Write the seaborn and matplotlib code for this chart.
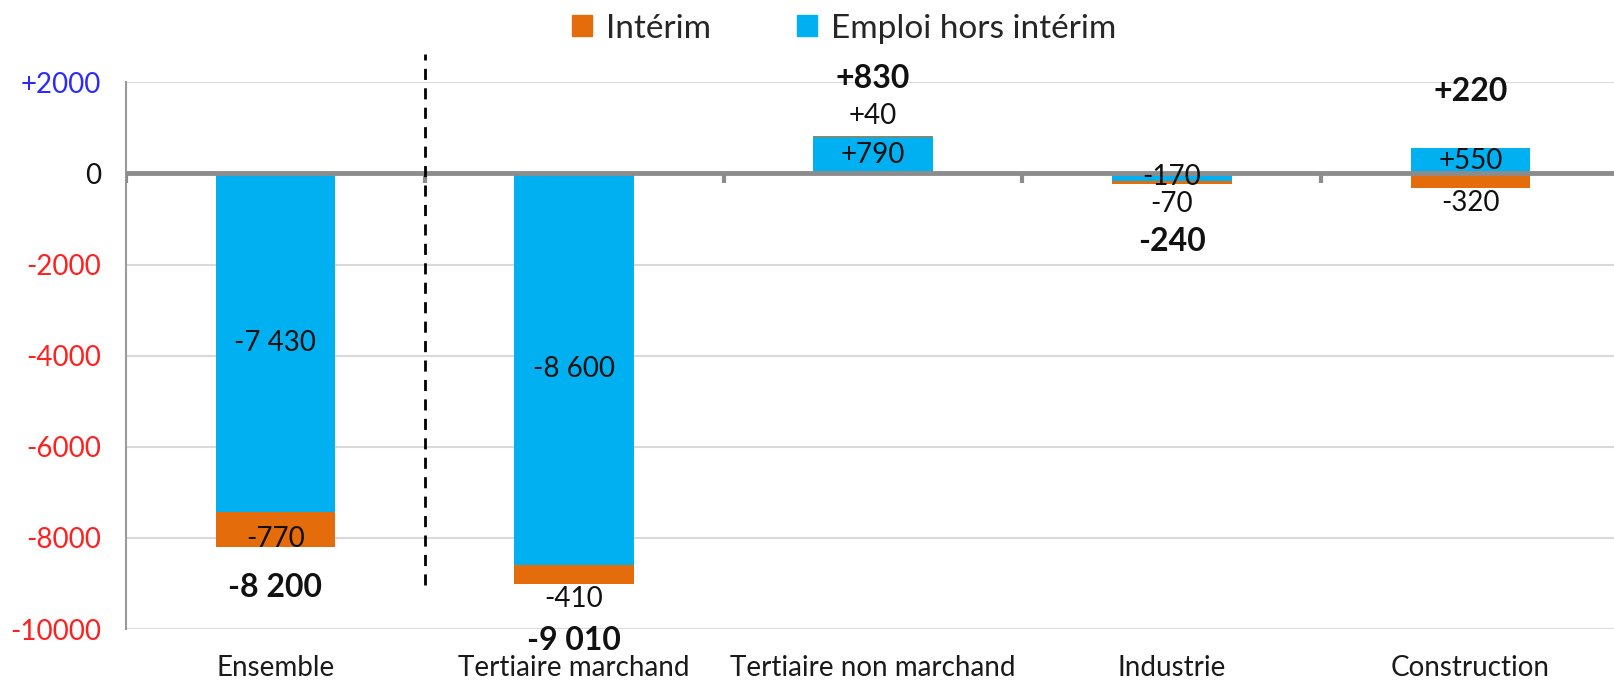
import matplotlib
matplotlib.use("Agg")
import matplotlib.pyplot as plt
from matplotlib import font_manager
from matplotlib.patches import Patch
import seaborn as sns
import pandas as pd

categories = ["Ensemble", "Tertiaire marchand", "Tertiaire non marchand", "Industrie", "Construction"]
hors_interim = [-7430, -8600, 790, -170, 550]
interim = [-770, -410, 40, -70, -320]
totaux = [-8200, -9010, 830, -240, 220]

blue_labels = ["-7 430", "-8 600", "+790", "-170", "+550"]
orange_labels = ["-770", "-410", "+40", "-70", "-320"]
total_labels = ["-8 200", "-9 010", "+830", "-240", "+220"]

yticks = [2000, 0, -2000, -4000, -6000, -8000, -10000]
ytick_labels = ["+2000", "0", "-2000", "-4000", "-6000", "-8000", "-10000"]

BLUE = "#00B0F0"
ORANGE = "#E46C0A"

sns.set_style("white")
font = "Lato"
for f in ["Liberation Sans Narrow", "Lato"]:
    try:
        font_manager.findfont(f, fallback_to_default=False)
        font = f
        break
    except Exception:
        pass
plt.rcParams["font.family"] = [font, "DejaVu Sans"]

df = pd.DataFrame({"cat": categories, "blue": hors_interim, "orange": interim})

fig = plt.figure(figsize=(16.14, 6.8), dpi=100)
ax = fig.add_axes([0.078, 0.075, 0.9257, 0.804])

sns.barplot(data=df, x="cat", y="blue", color=BLUE, width=0.4, errorbar=None,
            saturation=1, linewidth=0, ax=ax, zorder=3)
# orange stacks on the blue bar when same sign, otherwise starts from zero
bottoms = [b if (b > 0) == (o > 0) else 0 for b, o in zip(hors_interim, interim)]
ax.bar(range(len(categories)), interim, bottom=bottoms, width=0.4, color=ORANGE,
       linewidth=0, zorder=3)

ax.set_xlim(-0.5, len(categories) - 0.5)
ax.set_ylim(-10000, 2000)
ax.set_yticks(yticks)
ax.set_yticklabels(ytick_labels, fontsize=20)
for lab, v in zip(ax.get_yticklabels(), yticks):
    lab.set_color("#2B2BFF" if v > 0 else ("#111111" if v == 0 else "#FF2020"))
ax.tick_params(axis="y", length=8, width=1.5, color="#9A9A9A", pad=10)
ax.set_xticks(range(len(categories)))
ax.set_xticklabels(categories, fontsize=20, color="#1A1A1A")
ax.tick_params(axis="x", length=0, pad=19)
ax.set_xlabel("")
ax.set_ylabel("")

for s in ["top", "right", "bottom"]:
    ax.spines[s].set_visible(False)
ax.spines["left"].set_color("#9A9A9A")
ax.spines["left"].set_linewidth(1.5)

for v in yticks:
    if v != 0:
        ax.axhline(v, color="#D9D9D9", lw=1.5, zorder=1)
ax.axhline(0, color="#8C8C8C", lw=3.5, zorder=4)
ax.vlines([i + 0.5 for i in range(len(categories) - 1)] + [-0.5], -200, 0,
          color="#8C8C8C", lw=3, zorder=4)

ax.vlines(0.5, -9040, 2610, colors="black", linestyles=(0, (4, 3)), lw=2,
          clip_on=False, zorder=5)

# labels
for i in range(len(categories)):
    b, o, t = hors_interim[i], interim[i], totaux[i]
    ax.text(i, b / 2, blue_labels[i], ha="center", va="center", fontsize=20,
            color="#111111", zorder=6)
    o_end = bottoms[i] + o
    d = 1 if o > 0 else -1
    outer = abs(o) < 500
    if outer:
        off_o = 11 if abs(o) > 200 else 14
        ax.annotate(orange_labels[i], (i, o_end), xytext=(0, d * off_o),
                    textcoords="offset points", ha="center", va="center",
                    fontsize=20, color="#111111", zorder=6, annotation_clip=False)
    else:
        ax.text(i, o_end - o / 2 - 200, orange_labels[i], ha="center", va="center",
                fontsize=20, color="#111111", zorder=6)
    ends = [b, o_end, 0]
    d = 1 if t > 0 else -1
    extreme = max(ends) if t > 0 else min(ends)
    off = 41 if outer else 29
    ax.annotate(total_labels[i], (i, extreme), xytext=(0, d * off),
                textcoords="offset points", ha="center", va="center",
                fontsize=23, fontweight="bold", color="#111111", zorder=6,
                annotation_clip=False)

handles = [Patch(facecolor=ORANGE, edgecolor=ORANGE), Patch(facecolor=BLUE, edgecolor=BLUE)]
fig.legend(handles, ["Intérim", "Emploi hors intérim"], loc="center",
           bbox_to_anchor=(0.523, 0.958), ncol=2, frameon=False, fontsize=24,
           handlelength=0.6, handleheight=0.6, handletextpad=0.4, columnspacing=2.6)

fig.savefig("out.png", dpi=100)
